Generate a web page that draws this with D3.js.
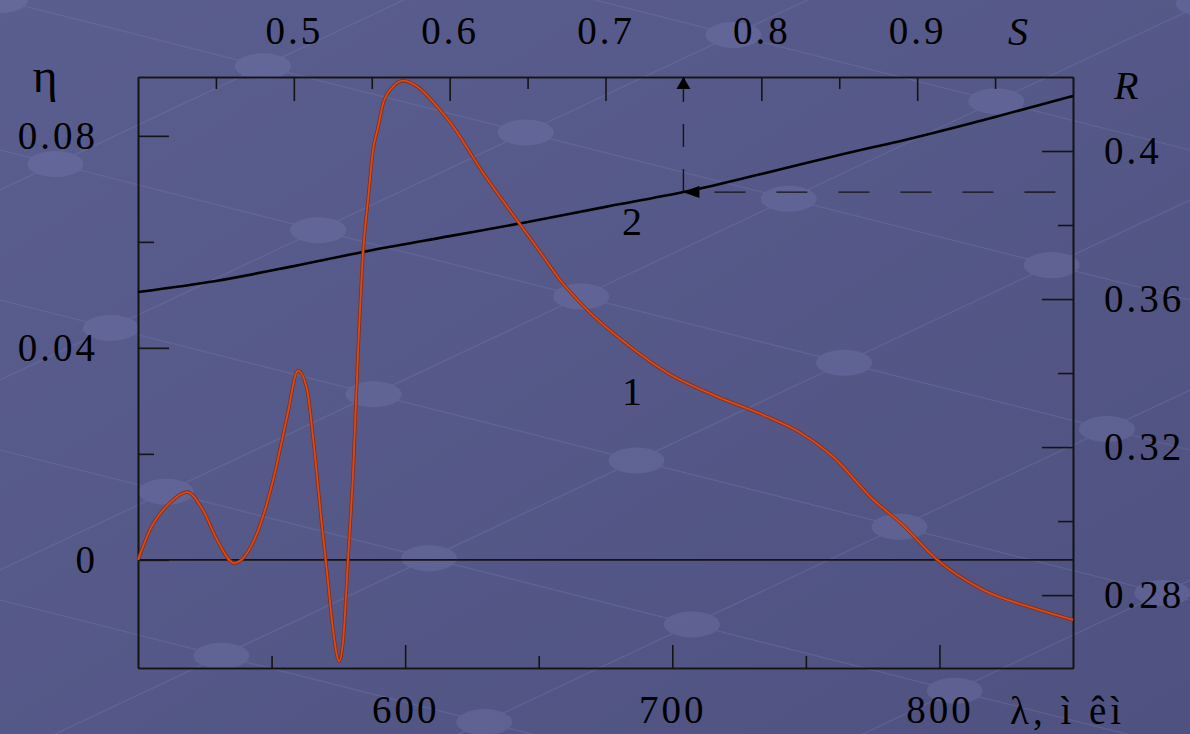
<!DOCTYPE html>
<html>
<head>
<meta charset="utf-8">
<script src="https://cdn.jsdelivr.net/npm/d3@7"></script>
<style>
  html, body { margin: 0; padding: 0; background: #555886; }
  svg { display: block; }
  text { font-family: "Liberation Serif", "Times New Roman", serif; fill: #000; }
</style>
</head>
<body>
<script>
//curve 1: eta vs wavelength (nm)
var lambda1 = [500, 504.5, 512, 518.4, 524.3, 529.6, 536, 544.6, 550.6, 555.8, 559.9, 563.3, 565.5, 568.9,
    570.8, 573, 575.3, 576.8, 578.6, 580.5, 582.4, 584.3, 586.1, 588, 589.9, 591.8, 595.5, 599.2, 604.5,
    612, 616.9, 629.2, 642.3, 649.4, 658, 669.3, 684.3, 698.1, 716.8, 735.6, 747.9, 760.3, 775.3, 785.4,
    799.2, 816.5, 835.2, 850];
var eta1 = [0, 0.0057, 0.0108, 0.0128, 0.0094, 0.0038, -0.0006, 0.0051, 0.0151, 0.027, 0.0357, 0.0321, 0.0232, 0.0062,
    -0.0025, -0.0132, -0.0191, -0.0151, 0, 0.0164, 0.0396, 0.0585, 0.0679, 0.0774, 0.0817, 0.0862, 0.0893, 0.0904, 0.0893,
    0.0855, 0.0825, 0.073, 0.0638, 0.0589, 0.0528, 0.0466, 0.0402, 0.0353, 0.0308, 0.027, 0.024, 0.0194, 0.0113, 0.007,
    0, -0.0057, -0.0091, -0.0113];

//curve 2: R vs S
var s2 = [0.40, 0.45, 0.50, 0.55, 0.60, 0.65, 0.70, 0.75, 0.80, 0.85, 0.90, 0.95, 1.00];
var r2 = [0.3619, 0.3649, 0.3689, 0.3732, 0.3770, 0.3808, 0.3849, 0.3889, 0.3938, 0.3989, 0.4038, 0.4092, 0.4149];

//dashed read-off point on curve 2
var markS = 0.75, markR = 0.3889;

//ticks
var lambdaMajor = [600, 700, 800], lambdaMinor = [550, 650, 750];
var etaMajor = [0, 0.04, 0.08], etaMinor = [0.02, 0.06];
var etaLabels = ['0', '0.04', '0.08'];
var sMajor = [0.5, 0.6, 0.7, 0.8, 0.9], sMinor = [0.45, 0.55, 0.65, 0.75, 0.85, 0.95];
var rMajor = [0.28, 0.32, 0.36, 0.40], rMinor = [0.30, 0.34, 0.38];
var rLabels = ['0.28', '0.32', '0.36', '0.4'];

var serif = '"Liberation Serif", "Times New Roman", Times, serif';

drawChart();

function drawChart(){

    var width = 1190, height = 734;
    var pLeft = 138, pRight = 1073, pTop = 77, pBottom = 668;

    var svg = d3.select('body').append('svg')
        .attr('width', width)
        .attr('height', height);

    //background
    var defs = svg.append('defs');
    var grad = defs.append('linearGradient').attr('id', 'bg')
        .attr('x1', '0').attr('y1', '0').attr('x2', '1').attr('y2', '1');
    grad.append('stop').attr('offset', '0').attr('stop-color', '#5a5e8f');
    grad.append('stop').attr('offset', '1').attr('stop-color', '#4f5280');
    svg.append('rect').attr('width', width).attr('height', height).attr('fill', 'url(#bg)');

    //faint lattice decoration
    var deco = svg.append('g').attr('opacity', 0.3);
    var sa = 150, sb = 190, ka = 300 / width, kb = -560 / width;
    for (var j = -4; j < 8; j++) {
        deco.append('line')
            .attr('x1', 0).attr('y1', j * sa)
            .attr('x2', width).attr('y2', j * sa + ka * width)
            .attr('stroke', '#7f83b5').attr('stroke-width', 1.2);
    }
    for (var k = 0; k < 8; k++) {
        deco.append('line')
            .attr('x1', 0).attr('y1', k * sb)
            .attr('x2', width).attr('y2', k * sb + kb * width)
            .attr('stroke', '#7f83b5').attr('stroke-width', 1.2);
    }
    for (var a = -4; a < 8; a++) {
        for (var b = 0; b < 8; b++) {
            //intersection of the two line families
            var xi = (b * sb - a * sa) / (ka - kb);
            var yi = a * sa + ka * xi;
            if (xi > -40 && xi < width + 40 && yi > -20 && yi < height + 20) {
                deco.append('ellipse')
                    .attr('cx', xi).attr('cy', yi)
                    .attr('rx', 28).attr('ry', 13)
                    .attr('fill', '#7b7fb5');
            }
        }
    }

    //scales
    var x = d3.scaleLinear().domain([500, 850]).range([pLeft, pRight]);
    var yEta = d3.scaleLinear().domain([-0.0204, 0.0911]).range([pBottom, pTop]);
    var xS = d3.scaleLinear().domain([0.4, 1.0]).range([pLeft, pRight]);
    var yR = d3.scaleLinear().domain([0.2603, 0.42]).range([pBottom, pTop]);

    function styleAxis(g) {
        g.attr('font-size', null).attr('font-family', null);
        g.selectAll('path, line').attr('stroke', '#141414').attr('stroke-width', 1.6);
        g.selectAll('text')
            .attr('font-family', serif)
            .attr('font-size', 39)
            .attr('letter-spacing', 3)
            .attr('fill', '#000');
    }

    //bottom axis (lambda)
    svg.append('g').attr('transform', 'translate(0,' + pBottom + ')')
        .call(d3.axisBottom(x).tickValues(lambdaMinor).tickSize(-12).tickSizeOuter(0).tickFormat(''))
        .call(styleAxis);
    svg.append('g').attr('transform', 'translate(0,' + pBottom + ')')
        .call(d3.axisBottom(x).tickValues(lambdaMajor).tickSize(-23).tickSizeOuter(0).tickPadding(27).tickFormat(d3.format('d')))
        .call(styleAxis);

    //top axis (S)
    svg.append('g').attr('transform', 'translate(0,' + pTop + ')')
        .call(d3.axisTop(xS).tickValues(sMinor).tickSize(-12).tickSizeOuter(0).tickFormat(''))
        .call(styleAxis);
    svg.append('g').attr('transform', 'translate(0,' + pTop + ')')
        .call(d3.axisTop(xS).tickValues(sMajor).tickSize(-24).tickSizeOuter(0).tickPadding(33).tickFormat(d3.format('.1f')))
        .call(styleAxis)
        .selectAll('text').attr('dy', '0em');

    //left axis (eta)
    svg.append('g').attr('transform', 'translate(' + pLeft + ',0)')
        .call(d3.axisLeft(yEta).tickValues(etaMinor).tickSize(-16).tickSizeOuter(0).tickFormat(''))
        .call(styleAxis);
    svg.append('g').attr('transform', 'translate(' + pLeft + ',0)')
        .call(d3.axisLeft(yEta).tickValues(etaMajor).tickSize(-31).tickSizeOuter(0).tickPadding(40)
            .tickFormat(function(d, i){ return etaLabels[i]; }))
        .call(styleAxis);

    //right axis (R)
    svg.append('g').attr('transform', 'translate(' + pRight + ',0)')
        .call(d3.axisRight(yR).tickValues(rMinor).tickSize(-15).tickSizeOuter(0).tickFormat(''))
        .call(styleAxis);
    svg.append('g').attr('transform', 'translate(' + pRight + ',0)')
        .call(d3.axisRight(yR).tickValues(rMajor).tickSize(-31).tickSizeOuter(0).tickPadding(31)
            .tickFormat(function(d, i){ return rLabels[i]; }))
        .call(styleAxis);

    //zero line
    svg.append('line')
        .attr('x1', pLeft).attr('x2', pRight)
        .attr('y1', yEta(0)).attr('y2', yEta(0))
        .attr('stroke', '#141414').attr('stroke-width', 1.6);

    //dashed read-off lines with arrows
    var mx = xS(markS), my = yR(markR);
    svg.append('line')
        .attr('x1', mx).attr('x2', mx).attr('y1', my).attr('y2', pTop + 8)
        .attr('stroke', '#141414').attr('stroke-width', 1.4)
        .attr('stroke-dasharray', '23,22');
    svg.append('line')
        .attr('x1', mx + 16).attr('x2', pRight).attr('y1', my).attr('y2', my)
        .attr('stroke', '#141414').attr('stroke-width', 1.4)
        .attr('stroke-dasharray', '31,31').attr('stroke-dashoffset', -15);
    svg.append('path')
        .attr('d', 'M' + mx + ',' + pTop + 'L' + (mx - 7) + ',' + (pTop + 12) + 'L' + (mx + 7) + ',' + (pTop + 12) + 'Z')
        .attr('fill', '#000');
    svg.append('path')
        .attr('d', 'M' + (mx - 1) + ',' + my + 'L' + (mx + 16) + ',' + (my - 6) + 'L' + (mx + 16) + ',' + (my + 6) + 'Z')
        .attr('fill', '#000');

    //curve 2
    var line2 = d3.line()
        .x(function(d, i){ return xS(s2[i]); })
        .y(function(d, i){ return yR(r2[i]); })
        .curve(d3.curveMonotoneX);
    svg.append('path')
        .datum(s2)
        .attr('d', line2)
        .attr('fill', 'none')
        .attr('stroke', '#000')
        .attr('stroke-width', 2.6);

    //curve 1
    var line1 = d3.line()
        .x(function(d, i){ return x(lambda1[i]); })
        .y(function(d, i){ return yEta(eta1[i]); })
        .curve(d3.curveMonotoneX);
    svg.append('path')
        .datum(lambda1)
        .attr('d', line1)
        .attr('fill', 'none')
        .attr('stroke', '#8a2a10')
        .attr('stroke-width', 3.4);
    svg.append('path')
        .datum(lambda1)
        .attr('d', line1)
        .attr('fill', 'none')
        .attr('stroke', '#d94a18')
        .attr('stroke-width', 1.8);

    //curve labels
    svg.append('text').attr('x', 632).attr('y', 405).attr('text-anchor', 'middle')
        .attr('font-family', serif).attr('font-size', 40).text('1');
    svg.append('text').attr('x', 632).attr('y', 235).attr('text-anchor', 'middle')
        .attr('font-family', serif).attr('font-size', 40).text('2');

    //axis titles
    svg.append('text').attr('x', 45).attr('y', 92).attr('text-anchor', 'middle')
        .attr('font-family', serif).attr('font-size', 48).text('η');
    svg.append('text').attr('x', 1008).attr('y', 45)
        .attr('font-family', serif).attr('font-size', 40).attr('font-style', 'italic').text('S');
    svg.append('text').attr('x', 1114).attr('y', 99)
        .attr('font-family', serif).attr('font-size', 40).attr('font-style', 'italic').text('R');
    svg.append('text').attr('x', 1010).attr('y', 724)
        .attr('font-family', serif).attr('font-size', 39).attr('letter-spacing', 4)
        .attr('xml:space', 'preserve').text('λ, ì êì');
}
</script>
</body>
</html>
